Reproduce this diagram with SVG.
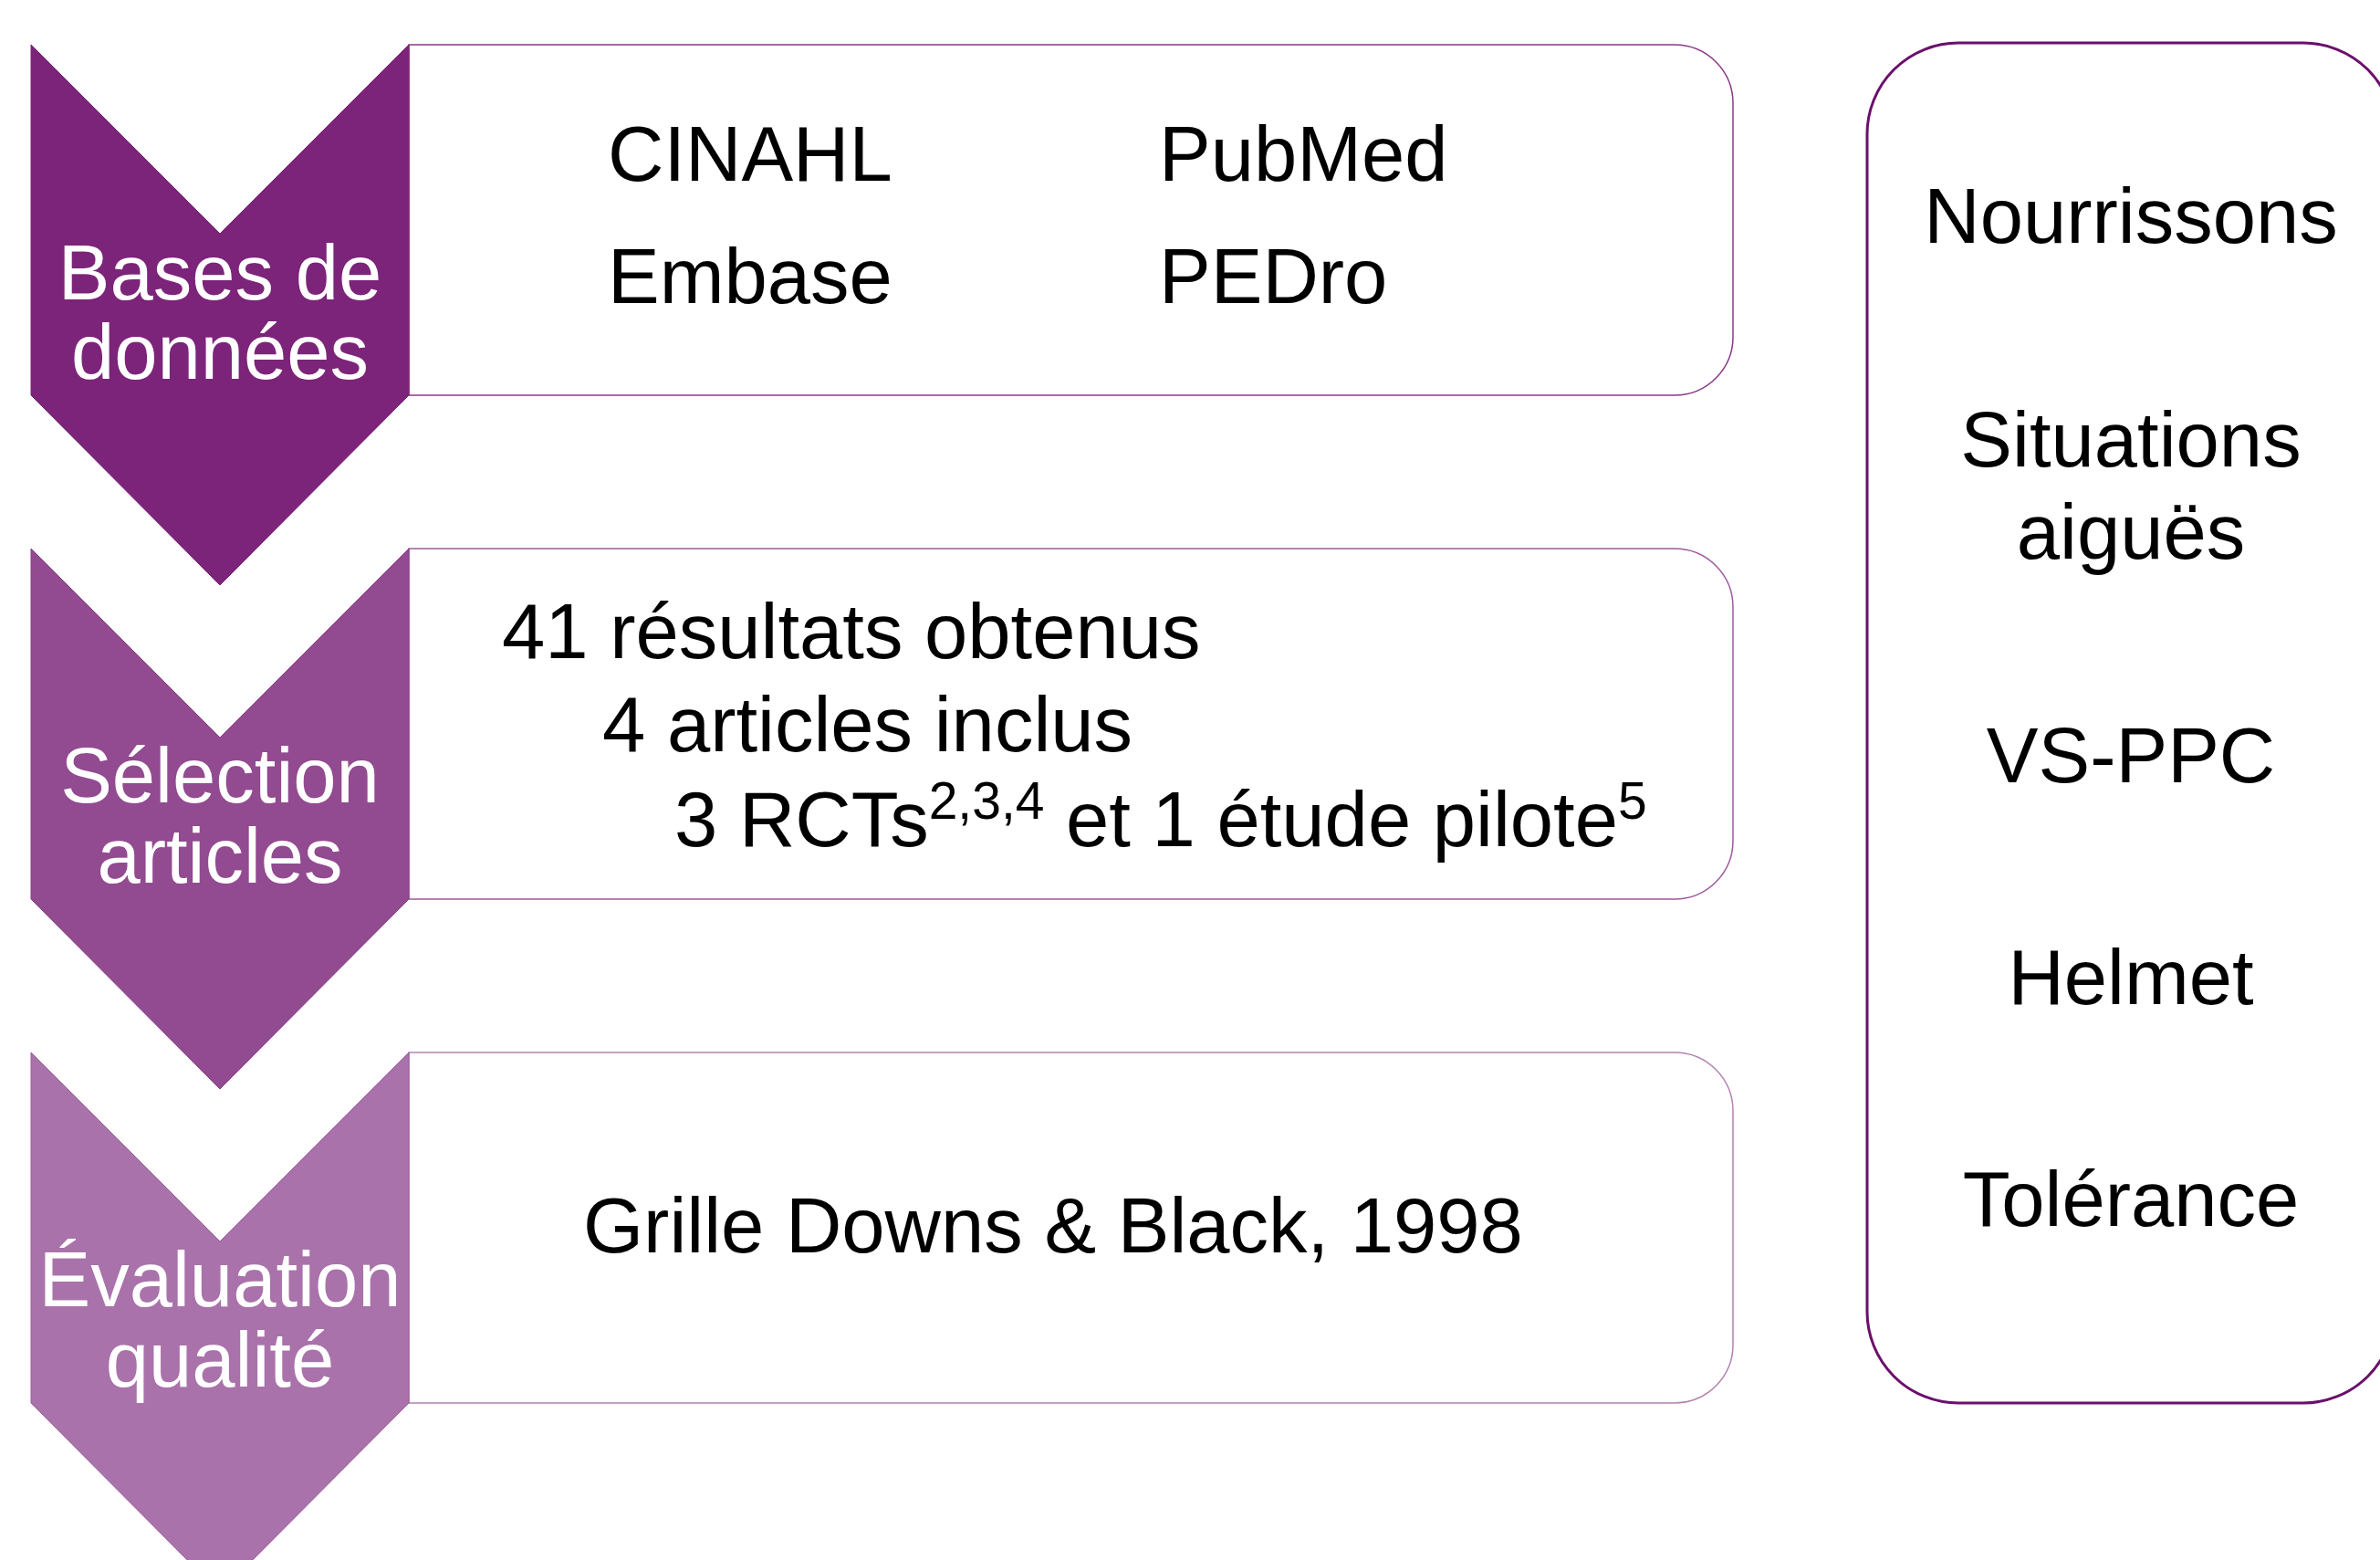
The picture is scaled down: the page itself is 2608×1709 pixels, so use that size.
<svg xmlns="http://www.w3.org/2000/svg" width="2608" height="1709" viewBox="0 0 2608 1709">
<style>
  text { font-family: "Liberation Sans", Arial, sans-serif; font-size: 85px; }
  .dark { fill: #000000; }
  .light { fill: #ffffff; text-anchor: middle; }
  .mid { fill: #000000; text-anchor: middle; }
  .box { fill: #ffffff; stroke-width: 1.5; }
  .sup { font-size: 57px; }
</style>
<rect x="0" y="0" width="2608" height="1709" fill="#ffffff"/>
<g id="connectors"/>
<g id="box-bases">
  <path class="box" stroke="#8A3A88" d="M448,49 H1835 A64,64 0 0 1 1899,113 V369 A64,64 0 0 1 1835,433 H448 Z"/>
  <text class="dark" x="666" y="198">CINAHL</text>
  <text class="dark" x="1270" y="198">PubMed</text>
  <text class="dark" x="666" y="332">Embase</text>
  <text class="dark" x="1270" y="332">PEDro</text>
</g>
<g id="box-selection">
  <path class="box" stroke="#9E5A9C" d="M448,601 H1835 A64,64 0 0 1 1899,665 V921 A64,64 0 0 1 1835,985 H448 Z"/>
  <text class="dark" x="550" y="721">41 résultats obtenus</text>
  <text class="dark" x="660" y="823">4 articles inclus</text>
  <text class="dark" x="739" y="927">3 RCTs<tspan class="sup" dy="-30">2,3,4</tspan><tspan dy="30"> et 1 étude pilote</tspan><tspan class="sup" dy="-30">5</tspan></text>
</g>
<g id="box-evaluation">
  <path class="box" stroke="#B383B2" d="M448,1153 H1835 A64,64 0 0 1 1899,1217 V1473 A64,64 0 0 1 1835,1537 H448 Z"/>
  <text class="dark" x="639" y="1372">Grille Downs &amp; Black, 1998</text>
</g>
<g id="chevron-bases">
  <polygon fill="#7B2479" stroke="#7B2479" stroke-width="1" points="34,49 241,256 448,49 448,433 241,641 34,433"/>
  <text class="light" x="241" y="328">Bases de</text>
  <text class="light" x="241" y="415">données</text>
</g>
<g id="chevron-selection">
  <polygon fill="#924A90" stroke="#8A4088" stroke-width="1" points="34,601 241,808 448,601 448,985 241,1193 34,985"/>
  <text class="light" x="241" y="879">Sélection</text>
  <text class="light" x="241" y="967">articles</text>
</g>
<g id="chevron-evaluation">
  <polygon fill="#A972AA" stroke="#9A5E9A" stroke-width="1" points="34,1153 241,1360 448,1153 448,1537 241,1745 34,1537"/>
  <text class="light" x="241" y="1431">Évaluation</text>
  <text class="light" x="241" y="1519">qualité</text>
</g>
<g id="panel-criteres">
  <rect x="2046" y="47" width="578" height="1490" rx="100" ry="100" fill="#ffffff" stroke="#6B0F6B" stroke-width="3"/>
  <text class="mid" x="2335" y="266">Nourrissons</text>
  <text class="mid" x="2335" y="511">Situations</text>
  <text class="mid" x="2335" y="612">aiguës</text>
  <text class="mid" x="2335" y="857">VS-PPC</text>
  <text class="mid" x="2335" y="1100">Helmet</text>
  <text class="mid" x="2335" y="1343">Tolérance</text>
</g>
</svg>
